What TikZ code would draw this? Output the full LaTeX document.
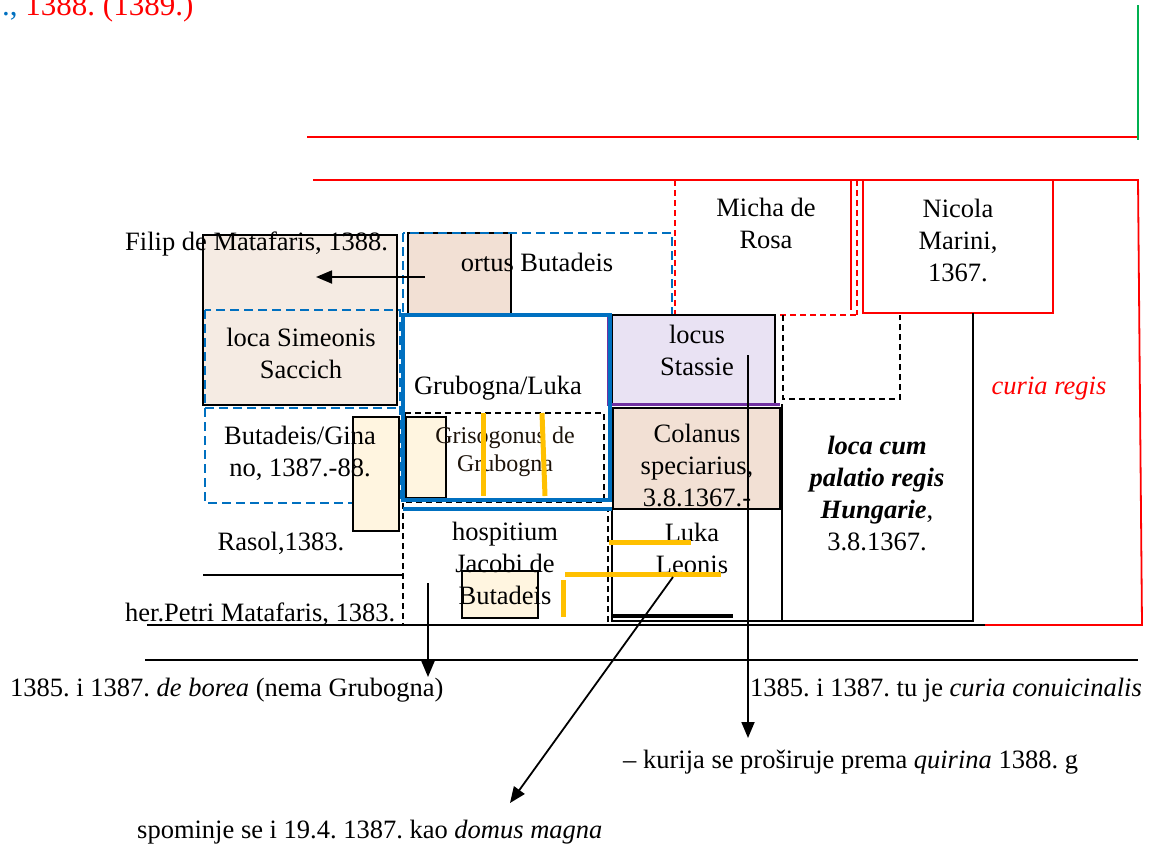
\documentclass[tikz,border=0pt]{standalone}
\usepackage{fontspec}
\setmainfont{Liberation Serif}
\usetikzlibrary{arrows.meta}
\frenchspacing

\definecolor{wordblue}{HTML}{0070C0}
\definecolor{wordred}{HTML}{FF0000}
\definecolor{wordgold}{HTML}{FFC000}
\definecolor{wordpurple}{HTML}{7030A0}
\definecolor{wordgreen}{HTML}{00B050}
\definecolor{tanfill}{HTML}{F2E0D4}
\definecolor{palefill}{HTML}{F5EBE3}
\definecolor{creamfill}{HTML}{FFF5E0}
\definecolor{lilacfill}{HTML}{E9E2F3}

\tikzset{
  lbl/.style={inner sep=0pt, align=center, font=\fontsize{26.5}{32}\selectfont},
  lblsmall/.style={inner sep=0pt, align=center, font=\fontsize{24}{28}\selectfont, text=black!85!brown},
  redline/.style={draw=wordred, line width=1.8pt},
  reddash/.style={draw=wordred, line width=1.5pt, dash pattern=on 6pt off 4pt},
  bluedash/.style={draw=wordblue, line width=2.4pt, dash pattern=on 9pt off 5pt},
  bluethick/.style={draw=wordblue, line width=4pt},
  blackdash/.style={draw=black, line width=1.5pt, dash pattern=on 6pt off 4pt},
  plainline/.style={draw=black, line width=1.5pt},
  tanbox/.style={fill=tanfill, draw=black, line width=1.5pt},
  palebox/.style={fill=palefill, draw=black, line width=1.5pt},
  creambox/.style={fill=creamfill, draw=black, line width=1.5pt},
  lilacbox/.style={fill=lilacfill, draw=black, line width=1.2pt},
  goldline/.style={draw=wordgold, line width=5pt},
  pointer/.style={draw=black, line width=1.8pt, -{Triangle[length=16pt,width=13pt]}},
}

\begin{document}
\begin{tikzpicture}[x=1pt,y=-1pt]
\useasboundingbox (0,0) rectangle (1156,852);
\clip (0,0) rectangle (1156,852);

% heading fragment at the very top
\node[anchor=base west, inner sep=0pt, font=\fontsize{31}{37}\selectfont] (hdr) at (2,15)
  {\textcolor{wordblue}{.,} \textcolor{wordred}{1388. (1389.)}};

% red outer frame and green edge
\draw[redline] (307,137) -- (1138,137);
\draw[draw=wordgreen, line width=1.5pt] (1138,5) -- (1138,140);
\draw[redline] (313,180) -- (1138,180) -- (1142,625) -- (985,625);

% filled plots, west block
\draw[palebox] (203,235) rectangle (397,405);
\draw[tanbox] (408,233) rectangle (511,315);
\draw[bluedash] (403,233) rectangle (672,315);
\draw[bluedash] (205,310) rectangle (400,503);
\draw[bluedash] (205,408) -- (400,408);

% small cream plots
\draw[creambox] (353,417) rectangle (399,531);
\draw[creambox] (406,417) rectangle (446,498);
\draw[creambox] (462,571) rectangle (538,618);

% Micha de Rosa and Nicola Marini
\draw[reddash] (675,180) -- (675,315) -- (857,315);
\draw[reddash] (857,180) -- (857,315);
\draw[redline] (851,180) -- (851,310);
\draw[redline] (863,180) rectangle (1053,313);

% locus Stassie
\draw[lilacbox] (612,315) rectangle (775,404);
\draw[draw=wordpurple, line width=3pt] (608,315) -- (608,404) -- (780,404);
\draw[blackdash] (783,315) -- (783,399) -- (900,399) -- (900,315);

% Colanus
\draw[tanbox] (613,408) rectangle (780,509);

% palatio regis and Luka Leonis plots
\draw[plainline] (782,404) -- (782,621) -- (973,621) -- (973,313);
\draw[plainline] (612,509) rectangle (782,621);

% hospitium and Grisogonus (dashed)
\draw[blackdash] (403,503) -- (403,625) -- (608,625) -- (608,509);
\draw[blackdash] (405,413) rectangle (604,502);

% Grubogna/Luka (thick blue)
\draw[bluethick] (403,315) rectangle (610,500);
\draw[bluethick] (403,509) -- (612,509);

% street lines
\draw[plainline] (147,625) -- (985,625);
\draw[plainline] (145,660) -- (1138,660);
\draw[plainline] (203,575) -- (403,575);

% labels
\node[lbl, anchor=west] (filip) at (125,244) {Filip de Matafaris, 1388.};
\node[lbl] (ortus) at (537,262) {ortus Butadeis};
\node[lbl] (micha) at (766,223) {Micha de\\Rosa};
\node[lbl] (nicola) at (958,240) {Nicola\\Marini,\\1367.};
\node[lbl] (simeon) at (301,353) {loca Simeonis\\Saccich};
\node[lbl] (grub) at (498,388) {Grubogna/Luka};
\node[lbl] (stassie) at (697,350) {locus\\Stassie};
\node[lbl, text=wordred, font=\fontsize{26.5}{32}\selectfont\itshape] (curia) at (1049,389) {curia regis};
\node[lbl] (gina) at (300,453) {Butadeis/Gina\\no, 1387.-88.};
\node[lblsmall] (griso) at (505,452) {Grisogonus de\\Grubogna};
\node[lbl] (colanus) at (697,465) {Colanus\\speciarius,\\3.8.1367.-};
\node[lbl] (palatio) at (877,493) {\textbf{\textit{loca cum}}\\\textbf{\textit{palatio regis}}\\\textbf{\textit{Hungarie}},\\3.8.1367.};
\node[lbl] (hosp) at (505,563) {hospitium\\Jacobi de\\Butadeis};
\node[lbl] (luka) at (692,548) {Luka\\Leonis};
\node[lbl] (rasol) at (281,543) {Rasol,1383.};
\node[lbl, anchor=west] (petri) at (125,614) {her.Petri Matafaris, 1383.};
\node[lbl, anchor=west] (borea) at (10,690) {1385. i 1387. \textit{de borea} (nema Grubogna)};
\node[lbl, anchor=west] (conv) at (750,690) {1385. i 1387. tu je \textit{curia conuicinalis}};
\node[lbl, anchor=west] (quir) at (623,762) {– kurija se proširuje prema \textit{quirina} 1388. g};
\node[lbl, anchor=west] (domus) at (137,832) {spominje se i 19.4. 1387. kao \textit{domus magna}};

% gold marks
\draw[goldline] (483,413) -- (483,496);
\draw[goldline] (542,413) -- (545,496);
\draw[goldline] (563,580) -- (563,617);
\draw[goldline] (609,542) -- (691,542);
\draw[goldline] (565,574) -- (721,574);
\draw[draw=black, line width=4pt] (613,616) -- (733,616);

% pointers
\coordinate (p1) at (425,277);
\coordinate (q1) at (316,277);
\coordinate (p2) at (428,583);
\coordinate (q2) at (428,677);
\coordinate (p3) at (748,355);
\coordinate (q3) at (748,738);
\coordinate (p4) at (673,577);
\coordinate (q4) at (510,803);
\draw[pointer] (p1) -- (q1);
\draw[pointer] (p2) -- (q2);
\draw[pointer] (p3) -- (q3);
\draw[pointer] (p4) -- (q4);
\end{tikzpicture}
\end{document}
